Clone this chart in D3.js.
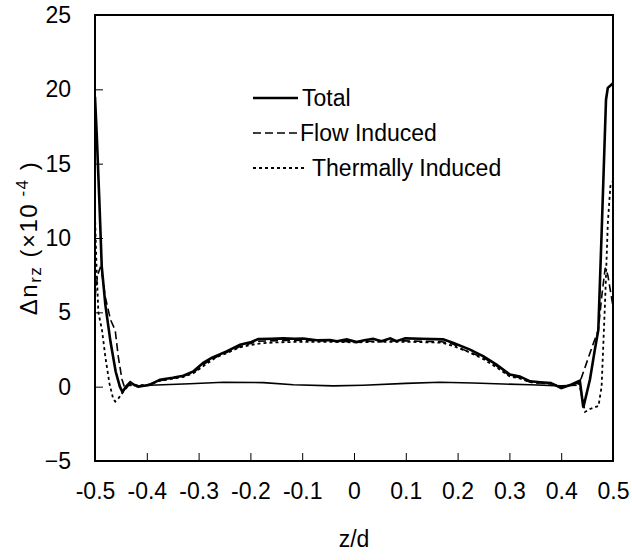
<!DOCTYPE html>
<html><head><meta charset="utf-8">
<script src="https://cdn.jsdelivr.net/npm/d3@7"></script>
<style>body{margin:0;background:#fff}svg{display:block}text{font-family:Arial,"Liberation Sans",sans-serif;fill:#000}</style>
</head><body>
<script>
// ---- data ----
const xTicks = [-0.5,-0.4,-0.3,-0.2,-0.1,0,0.1,0.2,0.3,0.4,0.5];
const xTickLabels = ["-0.5","-0.4","-0.3","-0.2","-0.1","0","0.1","0.2","0.3","0.4","0.5"];
const yTicks = [-5,0,5,10,15,20,25];
const seriesNames = ["Total","Flow Induced","Thermally Induced"];

const zTotal = [-0.5,-0.4967,-0.4917,-0.487,-0.48,-0.47,-0.46,-0.452,-0.447,-0.44,-0.432,-0.424,-0.416,-0.40,-0.394,-0.3745,-0.35,-0.3295,-0.31,-0.291,-0.275,-0.246,-0.22,-0.2,-0.185,-0.16,-0.136,-0.115,-0.098,-0.072,-0.046,-0.033,-0.014,0.005,0.02,0.037,0.053,0.07,0.082,0.099,0.13,0.172,0.192,0.224,0.25,0.275,0.301,0.32,0.34,0.36,0.38,0.40,0.42,0.436,0.4427,0.4556,0.465,0.4716,0.478,0.4865,0.49,0.4995];
const total  = [19.5,17.0,12.6,8.1,5.5,3.0,1.0,0.0,-0.35,0.0,0.3,0.1,0.0,0.1,0.13,0.47,0.6,0.74,1.03,1.6,1.93,2.37,2.82,2.98,3.2,3.22,3.25,3.22,3.24,3.12,3.14,3.05,3.18,3.0,3.12,3.22,3.05,3.25,3.06,3.25,3.22,3.18,2.94,2.49,2.04,1.48,0.81,0.69,0.36,0.3,0.25,-0.1,0.15,0.4,-1.4,0.5,2.5,3.8,10.3,19.3,20.1,20.4];

const zFlow = [-0.5,-0.495,-0.49,-0.487,-0.48,-0.47,-0.461,-0.455,-0.448,-0.4415,-0.435,-0.42,-0.40,-0.375,-0.33,-0.31,-0.29,-0.275,-0.246,-0.22,-0.2,-0.185,-0.15,-0.1,-0.05,0,0.05,0.1,0.17,0.192,0.211,0.25,0.275,0.30,0.32,0.34,0.38,0.40,0.42,0.436,0.449,0.462,0.4716,0.478,0.485,0.49,0.4995];
const flow  = [6.0,7.5,8.0,7.7,6.0,4.5,3.8,2.0,0.5,-0.2,0.1,0.05,0.1,0.4,0.7,0.95,1.5,1.85,2.3,2.7,2.9,3.05,3.1,3.12,3.08,3.02,3.06,3.08,3.02,2.85,2.49,1.95,1.4,0.75,0.6,0.3,0.2,0.0,0.1,0.3,1.6,2.9,3.8,6.0,8.0,7.5,5.5];

const zThermal = [-0.5,-0.497,-0.4935,-0.4865,-0.48,-0.472,-0.465,-0.461,-0.455,-0.4446,-0.44,-0.43,-0.42,-0.40,-0.375,-0.33,-0.31,-0.29,-0.265,-0.246,-0.22,-0.2,-0.18,-0.15,-0.1,-0.05,0,0.05,0.1,0.17,0.19,0.22,0.25,0.275,0.30,0.32,0.34,0.38,0.40,0.42,0.435,0.446,0.4556,0.472,0.478,0.485,0.49,0.495,0.4995];
const thermal  = [11.5,8.0,5.0,3.8,2.0,0.2,-0.8,-1.0,-0.8,-0.3,0.0,0.2,0.1,0.1,0.4,0.65,0.9,1.4,2.0,2.25,2.65,2.8,2.92,2.98,3.02,3.02,2.98,3.02,3.02,2.96,2.75,2.35,1.85,1.3,0.7,0.55,0.3,0.2,0.0,0.1,0.2,-1.7,-1.5,-1.3,0.0,6.0,11.0,13.5,13.8];

const zBase = [-0.42,-0.394,-0.317,-0.252,-0.175,-0.117,-0.04,0.018,0.10,0.166,0.23,0.288,0.34,0.40,0.43];
const base  = [0.0,0.1,0.2,0.3,0.27,0.13,0.05,0.1,0.22,0.3,0.25,0.18,0.13,0.05,0.1];

// ---- layout ----
const W = 632, H = 560;
const L = 95, R = 613, T = 15, B = 461;
const svg = d3.select("body").append("svg").attr("width", W).attr("height", H);
const x = d3.scaleLinear().domain([-0.5,0.5]).range([L,R]);
const y = d3.scaleLinear().domain([-5,25]).range([B,T]);

svg.append("clipPath").attr("id","c").append("rect")
  .attr("x",L).attr("y",T).attr("width",R-L).attr("height",B-T);

const line = d3.line().x(d=>x(d[0])).y(d=>y(d[1]));
const g = svg.append("g").attr("clip-path","url(#c)");
const mk = (zs,vs)=>zs.map((z,i)=>[z,vs[i]]);

g.append("path").datum(mk(zBase,base)).attr("d",line)
  .attr("fill","none").attr("stroke","#000").attr("stroke-width",1.6);
g.append("path").datum(mk(zThermal,thermal)).attr("d",line)
  .attr("fill","none").attr("stroke","#000").attr("stroke-width",1.8).attr("stroke-dasharray","3,3");
g.append("path").datum(mk(zFlow,flow)).attr("d",line)
  .attr("fill","none").attr("stroke","#000").attr("stroke-width",1.6).attr("stroke-dasharray","8,4");
g.append("path").datum(mk(zTotal,total)).attr("d",line)
  .attr("fill","none").attr("stroke","#000").attr("stroke-width",2.6);

// axes (ticks inward)
const xAxis = d3.axisBottom(x).tickValues(xTicks).tickFormat((d,i)=>xTickLabels[i]).tickSizeInner(-8).tickSizeOuter(0).tickPadding(22);
const yAxis = d3.axisLeft(y).tickValues(yTicks).tickSizeInner(-8).tickSizeOuter(0).tickPadding(24);
const gx = svg.append("g").attr("transform",`translate(0,${B})`).call(xAxis);
const gy = svg.append("g").attr("transform",`translate(${L},0)`).call(yAxis);
[gx,gy].forEach(a=>{
  a.select(".domain").remove();
  a.selectAll(".tick line").attr("stroke","#000").attr("stroke-width",1);
  a.selectAll(".tick text").style("font-size","23px").attr("font-family","Arial, 'Liberation Sans', sans-serif");
});

// frame
svg.append("rect").attr("x",L).attr("y",T).attr("width",R-L).attr("height",B-T)
  .attr("fill","none").attr("stroke","#000").attr("stroke-width",2);

// axis titles
svg.append("text").attr("x",(L+R)/2).attr("y",547).attr("text-anchor","middle")
  .style("font-size","23px").text("z/d");
const yl = svg.append("text").attr("transform",`translate(37,${(T+B)/2}) rotate(-90)`)
  .attr("text-anchor","middle").style("font-size","24px").style("letter-spacing","1.5px");
yl.append("tspan").text("\u0394n");
yl.append("tspan").attr("baseline-shift","-22%").style("font-size","17px").text("rz");
yl.append("tspan").text(" (\u00d710");
yl.append("tspan").attr("baseline-shift","55%").style("font-size","17px").text(" -4");
yl.append("tspan").text(" )");

// legend
const leg = [
  {y:98, dash:null, x2:298, tx:302, w:2.4},
  {y:133, dash:"8,4", x2:297, tx:300, w:1.6},
  {y:168, dash:"3,3", x2:307, tx:312, w:1.8}
];
leg.forEach((d,i)=>{
  svg.append("line").attr("x1",253).attr("x2",d.x2).attr("y1",d.y).attr("y2",d.y)
    .attr("stroke","#000").attr("stroke-width",d.w).attr("stroke-dasharray",d.dash);
  svg.append("text").attr("x",d.tx).attr("y",d.y+8).style("font-size","23px").text(seriesNames[i]);
});
</script>
</body></html>
